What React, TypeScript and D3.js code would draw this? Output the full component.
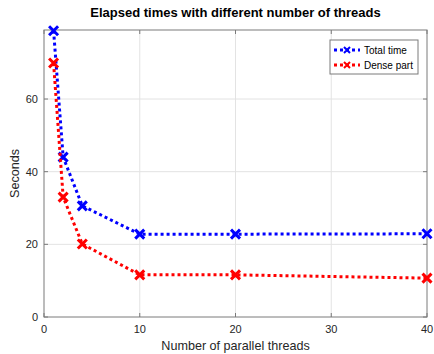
import React, { useEffect, useRef } from 'react';
import * as d3 from 'd3';

const threads = [1, 2, 4, 10, 20, 40];
const totalTime = [78.8, 44.0, 30.6, 22.8, 22.8, 22.9];
const densePart = [69.9, 33.0, 20.1, 11.6, 11.6, 10.7];
const xTicks = [0, 10, 20, 30, 40];
const yTicks = [0, 20, 40, 60];

const series = [
  { name: 'Total time', values: totalTime, color: '#0000ff' },
  { name: 'Dense part', values: densePart, color: '#ff0000' },
];

export default function App() {
  const svgRef = useRef<SVGSVGElement | null>(null);

  useEffect(() => {
    const width = 434;
    const height = 354;
    const margin = { top: 30, right: 7, bottom: 37, left: 44 };
    const innerW = width - margin.left - margin.right;
    const innerH = height - margin.top - margin.bottom;

    const svg = d3.select(svgRef.current);
    svg.selectAll('*').remove();
    svg.attr('width', width).attr('height', height);

    const font = 'Liberation Sans, Arial, sans-serif';
    const axisColor = '#262626';

    const x = d3.scaleLinear().domain([0, 40]).range([0, innerW]);
    const y = d3.scaleLinear().domain([0, 79]).range([innerH, 0]);

    svg.append('rect').attr('width', width).attr('height', height).attr('fill', '#fff');

    const g = svg.append('g').attr('transform', `translate(${margin.left},${margin.top})`);

    // grid
    g.selectAll('.vgrid').data(xTicks.slice(1, -1)).join('line')
      .attr('x1', d => x(d)).attr('x2', d => x(d)).attr('y1', 0).attr('y2', innerH)
      .attr('stroke', '#e3e3e3').attr('stroke-width', 1);
    g.selectAll('.hgrid').data(yTicks.slice(1)).join('line')
      .attr('x1', 0).attr('x2', innerW).attr('y1', d => y(d)).attr('y2', d => y(d))
      .attr('stroke', '#e3e3e3').attr('stroke-width', 1);

    // box
    g.append('rect').attr('x', 0).attr('y', 0).attr('width', innerW).attr('height', innerH)
      .attr('fill', 'none').attr('stroke', '#7a7a7a').attr('stroke-width', 1);

    // ticks
    const tl = 4;
    xTicks.forEach(t => {
      g.append('line').attr('x1', x(t)).attr('x2', x(t)).attr('y1', innerH).attr('y2', innerH - tl).attr('stroke', '#7a7a7a');
      g.append('line').attr('x1', x(t)).attr('x2', x(t)).attr('y1', 0).attr('y2', tl).attr('stroke', '#7a7a7a');
      g.append('text').attr('x', x(t)).attr('y', innerH + 16).attr('text-anchor', 'middle')
        .attr('font-family', font).attr('font-size', 11).attr('fill', axisColor).text(t);
    });
    yTicks.forEach(t => {
      g.append('line').attr('x1', 0).attr('x2', tl).attr('y1', y(t)).attr('y2', y(t)).attr('stroke', '#7a7a7a');
      g.append('line').attr('x1', innerW).attr('x2', innerW - tl).attr('y1', y(t)).attr('y2', y(t)).attr('stroke', '#7a7a7a');
      g.append('text').attr('x', -6).attr('y', y(t) + 4).attr('text-anchor', 'end')
        .attr('font-family', font).attr('font-size', 11).attr('fill', axisColor).text(t);
    });

    const line = d3.line<number>().x((_, i) => x(threads[i])).y(d => y(d));

    const drawX = (sel: d3.Selection<SVGGElement, unknown, null, undefined>, cx: number, cy: number, color: string) => {
      const s = 4.5;
      sel.append('path')
        .attr('d', `M${cx - s},${cy - s}L${cx + s},${cy + s}M${cx - s},${cy + s}L${cx + s},${cy - s}`)
        .attr('stroke', color).attr('stroke-width', 3).attr('fill', 'none');
    };

    series.forEach(s => {
      g.append('path').datum(s.values).attr('d', line)
        .attr('fill', 'none').attr('stroke', s.color).attr('stroke-width', 3)
        .attr('stroke-dasharray', '3,3');
      s.values.forEach((v, i) => drawX(g, x(threads[i]), y(v), s.color));
    });

    // legend
    const lg = svg.append('g').attr('transform', 'translate(330,40)');
    lg.append('rect').attr('width', 88).attr('height', 34).attr('fill', '#fff')
      .attr('stroke', '#7a7a7a').attr('stroke-width', 1);
    series.forEach((s, i) => {
      const ly = 10 + i * 15;
      lg.append('line').attr('x1', 4).attr('x2', 30).attr('y1', ly).attr('y2', ly)
        .attr('stroke', s.color).attr('stroke-width', 3).attr('stroke-dasharray', '3,3');
      const cx = 17, s2 = 3;
      lg.append('path').attr('d', `M${cx - s2},${ly - s2}L${cx + s2},${ly + s2}M${cx - s2},${ly + s2}L${cx + s2},${ly - s2}`)
        .attr('stroke', s.color).attr('stroke-width', 2).attr('fill', 'none');
      lg.append('text').attr('x', 34).attr('y', ly + 4).attr('font-family', font).attr('font-size', 10)
        .attr('fill', '#000').text(s.name);
    });

    // title and labels
    svg.append('text').attr('x', margin.left + innerW / 2).attr('y', 17).attr('text-anchor', 'middle')
      .attr('font-family', font).attr('font-size', 13).attr('font-weight', 'bold').attr('fill', '#000')
      .text('Elapsed times with different number of threads');
    svg.append('text').attr('x', margin.left + innerW / 2).attr('y', 350).attr('text-anchor', 'middle')
      .attr('font-family', font).attr('font-size', 12.6).attr('fill', axisColor)
      .text('Number of parallel threads');
    svg.append('text').attr('transform', `translate(19,${margin.top + innerH / 2}) rotate(-90)`)
      .attr('text-anchor', 'middle').attr('font-family', font).attr('font-size', 12.6).attr('fill', axisColor)
      .text('Seconds');
  }, []);

  return (
    <div style={{ position: 'fixed', left: 0, top: 0 }}>
      <svg ref={svgRef} style={{ display: 'block' }} />
    </div>
  );
}
